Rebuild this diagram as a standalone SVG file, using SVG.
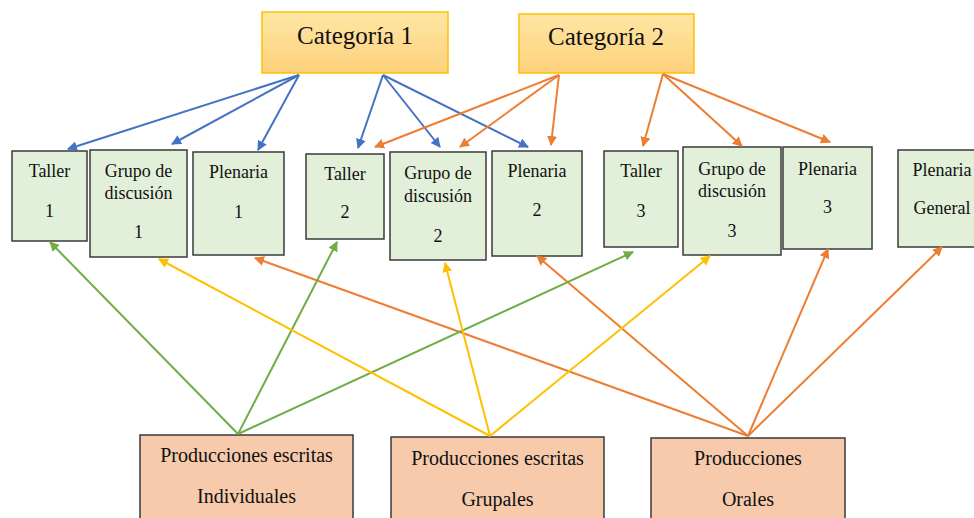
<svg xmlns="http://www.w3.org/2000/svg" width="974" height="518" viewBox="0 0 974 518">
<defs>
<linearGradient id="gCat" x1="0" y1="0" x2="0" y2="1">
<stop offset="0" stop-color="#fee6a4"/>
<stop offset="1" stop-color="#fdd17c"/>
</linearGradient>
<marker id="aBlue" viewBox="0 0 10 10" refX="9" refY="5" markerWidth="5" markerHeight="5" orient="auto" markerUnits="strokeWidth"><path d="M0,0 L10,5 L0,10 z" fill="#4472c4"/></marker>
<marker id="aOrange" viewBox="0 0 10 10" refX="9" refY="5" markerWidth="5" markerHeight="5" orient="auto" markerUnits="strokeWidth"><path d="M0,0 L10,5 L0,10 z" fill="#ed7d31"/></marker>
<marker id="aGreen" viewBox="0 0 10 10" refX="9" refY="5" markerWidth="5" markerHeight="5" orient="auto" markerUnits="strokeWidth"><path d="M0,0 L10,5 L0,10 z" fill="#70ad47"/></marker>
<marker id="aYellow" viewBox="0 0 10 10" refX="9" refY="5" markerWidth="5" markerHeight="5" orient="auto" markerUnits="strokeWidth"><path d="M0,0 L10,5 L0,10 z" fill="#ffc000"/></marker>
</defs>
<rect width="974" height="518" fill="#ffffff"/>

<g fill="#111" text-anchor="middle">
<g id="cat1"><rect fill="url(#gCat)" stroke="#ffc000" stroke-width="1.5" x="262" y="12" width="186" height="61"/><text font-family="Times New Roman" font-size="25" x="355" y="44">Categoría 1</text></g>
<g id="cat2"><rect fill="url(#gCat)" stroke="#ffc000" stroke-width="1.5" x="519" y="14" width="175" height="59"/><text font-family="Times New Roman" font-size="25" x="606" y="45">Categoría 2</text></g>
</g>

<g fill="#e2efd9" stroke="#3a3a3a" stroke-width="1.5">
<rect id="r-taller1" x="12" y="151" width="75" height="90"/>
<rect id="r-grupo1" x="90" y="150" width="97" height="107"/>
<rect id="r-plenaria1" x="193" y="152" width="91" height="103"/>
<rect id="r-taller2" x="306" y="154" width="78" height="85"/>
<rect id="r-grupo2" x="390" y="152" width="96" height="108"/>
<rect id="r-plenaria2" x="492" y="151" width="90" height="105"/>
<rect id="r-taller3" x="604" y="151" width="74" height="96"/>
<rect id="r-grupo3" x="683" y="147" width="98" height="108"/>
<rect id="r-plenaria3" x="783" y="147" width="89" height="102"/>
<rect id="r-plenariaGeneral" x="898" y="150" width="90" height="97"/>
</g>
<g fill="#f7caac" stroke="#3a3a3a" stroke-width="1.5">
<rect id="r-prodIndividuales" x="140" y="435" width="213" height="90"/>
<rect id="r-prodGrupales" x="391" y="437" width="213" height="90"/>
<rect id="r-prodOrales" x="651" y="438" width="194" height="90"/>
</g>

<g fill="#111" text-anchor="middle" font-size="18">
<g id="taller1"><text font-family="Times New Roman" x="49.5" y="177">Taller</text><text font-family="Times New Roman" x="49.5" y="217">1</text></g>
<g id="grupo1"><text font-family="Times New Roman" x="138.5" y="177">Grupo de</text><text font-family="Times New Roman" x="138.5" y="199">discusión</text><text font-family="Times New Roman" x="138.5" y="238">1</text></g>
<g id="plenaria1"><text font-family="Times New Roman" x="238.5" y="178">Plenaria</text><text font-family="Times New Roman" x="238.5" y="218">1</text></g>
<g id="taller2"><text font-family="Times New Roman" x="345" y="180">Taller</text><text font-family="Times New Roman" x="345" y="218">2</text></g>
<g id="grupo2"><text font-family="Times New Roman" x="438" y="179">Grupo de</text><text font-family="Times New Roman" x="438" y="202">discusión</text><text font-family="Times New Roman" x="438" y="242">2</text></g>
<g id="plenaria2"><text font-family="Times New Roman" x="537" y="177">Plenaria</text><text font-family="Times New Roman" x="537" y="216">2</text></g>
<g id="taller3"><text font-family="Times New Roman" x="641" y="177">Taller</text><text font-family="Times New Roman" x="641" y="217">3</text></g>
<g id="grupo3"><text font-family="Times New Roman" x="732" y="175">Grupo de</text><text font-family="Times New Roman" x="732" y="197">discusión</text><text font-family="Times New Roman" x="732" y="237">3</text></g>
<g id="plenaria3"><text font-family="Times New Roman" x="827.5" y="175">Plenaria</text><text font-family="Times New Roman" x="827.5" y="213">3</text></g>
<g id="plenariaGeneral"><text font-family="Times New Roman" x="942" y="176">Plenaria</text><text font-family="Times New Roman" x="942" y="214">General</text></g>
</g>
<g fill="#111" text-anchor="middle" font-size="20">
<g id="prodIndividuales"><text font-family="Times New Roman" x="246.5" y="462">Producciones escritas</text><text font-family="Times New Roman" x="246.5" y="503">Individuales</text></g>
<g id="prodGrupales"><text font-family="Times New Roman" x="497.5" y="465">Producciones escritas</text><text font-family="Times New Roman" x="497.5" y="506">Grupales</text></g>
<g id="prodOrales"><text font-family="Times New Roman" x="748" y="465">Producciones</text><text font-family="Times New Roman" x="748" y="506">Orales</text></g>
</g>

<g id="connectors" stroke-width="2" fill="none">
<g stroke="#4472c4" marker-end="url(#aBlue)">
<line x1="299" y1="75" x2="68" y2="149"/>
<line x1="299" y1="75" x2="172" y2="144"/>
<line x1="299" y1="75" x2="258" y2="150"/>
<line x1="383" y1="75" x2="358" y2="148"/>
<line x1="383" y1="75" x2="440" y2="147"/>
<line x1="383" y1="75" x2="528" y2="147"/>
</g>
<g stroke="#ed7d31" marker-end="url(#aOrange)">
<line x1="559" y1="75" x2="375" y2="147"/>
<line x1="559" y1="75" x2="460" y2="147"/>
<line x1="559" y1="75" x2="551" y2="145"/>
<line x1="663" y1="74" x2="643" y2="146"/>
<line x1="663" y1="74" x2="742" y2="146"/>
<line x1="663" y1="74" x2="830" y2="142"/>
<line x1="748" y1="436" x2="255" y2="258"/>
<line x1="748" y1="436" x2="537" y2="256"/>
<line x1="748" y1="436" x2="828" y2="249"/>
<line x1="748" y1="436" x2="942" y2="247"/>
</g>
<g stroke="#70ad47" marker-end="url(#aGreen)">
<line x1="238" y1="434" x2="50" y2="242"/>
<line x1="238" y1="434" x2="337" y2="242"/>
<line x1="238" y1="434" x2="633" y2="252"/>
</g>
<g stroke="#ffc000" marker-end="url(#aYellow)">
<line x1="490" y1="436" x2="159" y2="259"/>
<line x1="490" y1="436" x2="445" y2="263"/>
<line x1="490" y1="436" x2="710" y2="256"/>
</g>
</g>
</svg>
